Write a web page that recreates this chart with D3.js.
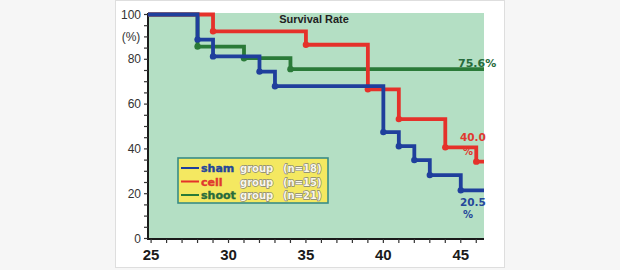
<!DOCTYPE html>
<html><head><meta charset="utf-8">
<script src="https://cdn.jsdelivr.net/npm/d3@7"></script>
<style>body{margin:0;background:#f6f6f6;} svg{display:block}</style>
</head><body><svg id="c" width="620" height="270"></svg>
<script>
// ---- data ----
const xTicks = [25, 30, 35, 40, 45];
const yTicks = [0, 20, 40, 60, 80, 100];
const groupNames = ["sham", "cell", "shoot"];
const groupN = [18, 15, 21];
const shamDays = [28, 29, 32, 33, 40, 41, 42, 43, 45];
const shamSurv = [88.8, 81.3, 74.5, 68, 47.5, 41.2, 35, 28.3, 21.5];
const cellDays = [29, 35, 39, 41, 44, 46];
const cellSurv = [92.5, 86.5, 66.6, 53.3, 40.7, 34.3];
const shootDays = [28, 31, 34];
const shootSurv = [85.7, 80.5, 75.6];
const endLabelsTop = ["20.5", "40.0", "75.6%"];
const endLabelsBottom = ["%", "%", ""];
const title = "Survival Rate";

// ---- layout ----
const svg = d3.select("#c");
const colors = { sham: "#1f3f9c", cell: "#e5312a", shoot: "#2a7a38" };
const labelColors = { sham: "#24479a", cell: "#e0392f", shoot: "#276b3c" };

// white frame
svg.append("rect").attr("x", 115.5).attr("y", 0.5).attr("width", 389).attr("height", 267)
  .attr("fill", "#ffffff").attr("stroke", "#dedede");

const x = d3.scaleLinear().domain([24.8, 46.5]).range([148, 484]);
const y = d3.scaleLinear().domain([0, 100]).range([238.5, 14.5]);

// plot background
svg.append("rect").attr("x", x(24.8)).attr("y", 13).attr("width", x(46.5) - x(24.8)).attr("height", 239 - 13)
  .attr("fill", "#b4dfc4");

// title
svg.append("text").attr("x", 314).attr("y", 23).attr("text-anchor", "middle")
  .attr("font-family", "Liberation Sans Narrow, Liberation Sans, Arial, sans-serif")
  .attr("font-weight", "bold").attr("font-size", 11).attr("fill", "#222").text(title);

// axes
const xAxis = svg.append("g").attr("transform", "translate(0,239)");
xAxis.append("line").attr("x1", x(24.8)).attr("x2", x(46.5)).attr("stroke", "#1a1a1a").attr("stroke-width", 2);
xAxis.selectAll(".mt").data(d3.range(25, 47)).join("line")
  .attr("x1", d => x(d)).attr("x2", d => x(d)).attr("y1", 0).attr("y2", 4)
  .attr("stroke", "#333").attr("stroke-width", 1.2);
xAxis.selectAll(".tl").data(xTicks).join("text")
  .attr("x", d => x(d)).attr("y", 21).attr("text-anchor", "middle")
  .attr("font-family", "Liberation Sans, Arial, sans-serif").attr("font-weight", "bold")
  .attr("font-size", 15).attr("fill", "#1a1a1a").text(d => d);

const yAxis = svg.append("g").attr("transform", `translate(${x(24.8)},0)`);
yAxis.append("line").attr("y1", 13).attr("y2", 240).attr("stroke", "#1a1a1a").attr("stroke-width", 2);
yAxis.selectAll(".mt").data(d3.range(0, 101, 5)).join("line")
  .attr("x1", -4).attr("x2", 0).attr("y1", d => y(d)).attr("y2", d => y(d))
  .attr("stroke", "#333").attr("stroke-width", 1.2);
yAxis.selectAll(".tl").data(yTicks).join("text")
  .attr("x", -7).attr("y", d => y(d) + 4).attr("text-anchor", "end")
  .attr("font-family", "Liberation Sans, Arial, sans-serif").attr("font-size", 12)
  .attr("fill", "#333").text(d => d);
yAxis.append("text").attr("x", -17).attr("y", 41).attr("text-anchor", "middle")
  .attr("font-family", "Liberation Sans, Arial, sans-serif").attr("font-size", 12)
  .attr("fill", "#333").text("(%)");

// series (drawn so that sham ends up on top)
const series = [
  { name: "shoot", days: shootDays, surv: shootSurv },
  { name: "cell", days: cellDays, surv: cellSurv },
  { name: "sham", days: shamDays, surv: shamSurv }
];
const line = d3.line().x(d => x(d[0])).y(d => y(d[1])).curve(d3.curveStepAfter);
series.forEach(s => {
  const pts = [[24.8, 100]].concat(s.days.map((d, i) => [d, s.surv[i]]));
  pts.push([46.5, s.surv[s.surv.length - 1]]);
  svg.append("path").datum(pts).attr("d", line).attr("fill", "none")
    .attr("stroke", colors[s.name]).attr("stroke-width", 3.8).attr("stroke-linejoin", "miter");
  svg.selectAll(".dot-" + s.name).data(s.days.map((d, i) => [d, s.surv[i]])).join("circle")
    .attr("cx", d => x(d[0])).attr("cy", d => y(d[1])).attr("r", 3.2)
    .attr("fill", colors[s.name]);
});

// end labels
const endFont = "DejaVu Sans, Verdana, sans-serif";
svg.append("text").attr("x", 458).attr("y", 67).attr("font-family", endFont).attr("font-weight", "bold")
  .attr("font-size", 11).attr("fill", labelColors.shoot).text(endLabelsTop[2]);
svg.append("text").attr("x", 460).attr("y", 141).attr("font-family", endFont).attr("font-weight", "bold")
  .attr("font-size", 10.5).attr("fill", labelColors.cell).text(endLabelsTop[1]);
svg.append("text").attr("x", 463).attr("y", 155).attr("font-family", endFont).attr("font-weight", "bold")
  .attr("font-size", 10).attr("fill", labelColors.cell).text(endLabelsBottom[1]);
svg.append("text").attr("x", 460).attr("y", 206).attr("font-family", endFont).attr("font-weight", "bold")
  .attr("font-size", 10.5).attr("fill", labelColors.sham).text(endLabelsTop[0]);
svg.append("text").attr("x", 463).attr("y", 218).attr("font-family", endFont).attr("font-weight", "bold")
  .attr("font-size", 10).attr("fill", labelColors.sham).text(endLabelsBottom[0]);

// legend
const lg = svg.append("g");
lg.append("rect").attr("x", 178).attr("y", 158).attr("width", 150).attr("height", 45)
  .attr("fill", "#f4e861").attr("stroke", "#3a8c86").attr("stroke-width", 1.6);
const legendOrder = ["sham", "cell", "shoot"];
const rowY = [168, 181.5, 195];
legendOrder.forEach((g, i) => {
  const yy = rowY[i];
  lg.append("line").attr("x1", 181).attr("x2", 199).attr("y1", yy).attr("y2", yy)
    .attr("stroke", colors[g]).attr("stroke-width", 2);
  lg.append("text").attr("x", 201).attr("y", yy + 4).attr("font-family", "DejaVu Sans, Verdana, sans-serif")
    .attr("font-weight", "bold").attr("font-size", 11).attr("fill", labelColors[g])
    .attr("stroke", labelColors[g]).attr("stroke-width", 0.4).text(g);
  lg.append("text").attr("x", 240).attr("y", yy + 4).attr("font-family", "DejaVu Sans, Verdana, sans-serif")
    .attr("font-weight", "bold").attr("font-size", 10).attr("fill", "#fbf8ea")
    .attr("stroke", "#85857a").attr("stroke-width", 1.3).attr("paint-order", "stroke").text("group");
  lg.append("text").attr("x", 283).attr("y", yy + 4).attr("font-family", "DejaVu Sans, Verdana, sans-serif")
    .attr("font-weight", "bold").attr("font-size", 10).attr("fill", "#fbf8ea")
    .attr("stroke", "#85857a").attr("stroke-width", 1.3).attr("paint-order", "stroke")
    .text("(n=" + groupN[groupNames.indexOf(g)] + ")");
});
</script></body></html>
